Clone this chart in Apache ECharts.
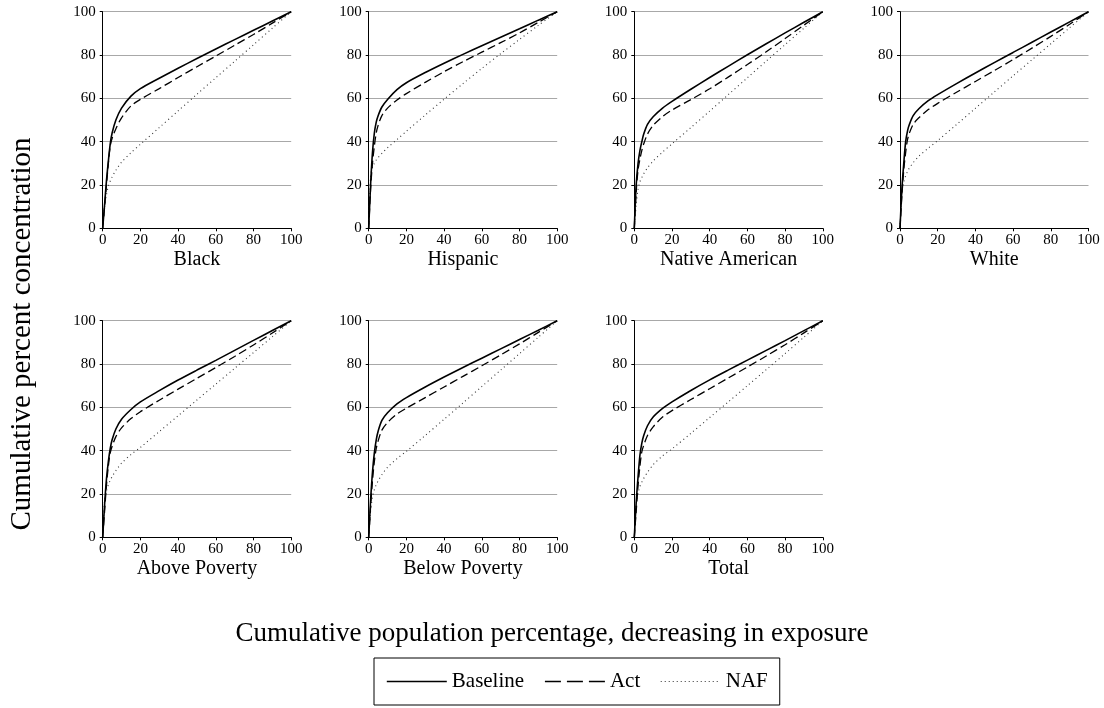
<!DOCTYPE html>
<html>
<head>
<meta charset="utf-8">
<script src="https://cdn.jsdelivr.net/npm/echarts@6/dist/echarts.min.js"></script>
<style>
  html, body { margin: 0; padding: 0; background: #fff; }
  #chart { width: 1104px; height: 708px; }
</style>
</head>
<body>
<div id="chart"></div>
<script>
// cumulative population percentage (x)
const xPct = [0, 1, 2, 3, 4, 5, 7, 10, 15, 20, 30, 40, 50, 60, 70, 80, 90, 100];
const panelNames = ["Black", "Hispanic", "Native American", "White", "Above Poverty", "Below Poverty", "Total"];
const seriesNames = ["Baseline", "Act", "NAF"];

// cumulative percent concentration, one array per panel / scenario
const blackBaseline = [0, 11, 22, 31, 39, 44, 50, 55.5, 61, 64.5, 69.3, 73.9, 78.4, 82.8, 87.1, 91.4, 95.7, 100];
const blackAct = [0, 10, 20, 30, 38, 41.5, 46, 51, 56.5, 59.5, 64.5, 69.6, 74.6, 79.5, 84.5, 89.5, 94.7, 100];
const blackNaf = [0, 10, 15.5, 19.5, 21.8, 23.7, 26.8, 30.5, 34.9, 38.8, 46.5, 54.2, 61.9, 69.5, 77.1, 84.7, 92.4, 100];

const hispanicBaseline = [0, 20, 35, 44, 49, 52, 56, 59.5, 64, 67.2, 71.9, 76.2, 80.3, 84.3, 88.2, 92.1, 96.1, 100];
const hispanicAct = [0, 18, 30, 38, 44, 47.5, 52, 55.5, 59.2, 62.2, 67.4, 72.3, 76.9, 81.3, 85.7, 90.2, 95.1, 100];
const hispanicNaf = [0, 24, 28, 30, 31.5, 32.7, 34.6, 37.2, 41, 44.8, 52.3, 59.6, 66.8, 73.8, 80.6, 87.2, 93.7, 100];

const nativeBaseline = [0, 20, 30, 36, 40, 43.5, 48, 51.5, 55.5, 58.6, 64.2, 69.6, 74.9, 80.1, 85.2, 90.2, 95.1, 100];
const nativeAct = [0, 17, 27, 32, 36, 39, 43.5, 47.5, 51.6, 54.6, 59.4, 64.4, 69.9, 75.6, 81.5, 87.6, 93.8, 100];
const nativeNaf = [0, 11, 18, 21.5, 23.5, 25.2, 27.9, 31.1, 35.2, 39, 46.5, 54.1, 61.8, 69.5, 77.2, 84.8, 92.4, 100];

const whiteBaseline = [0, 18, 30, 40, 45, 48, 52, 55.2, 58.9, 61.7, 66.8, 71.7, 76.5, 81.2, 85.9, 90.6, 95.3, 100];
const whiteAct = [0, 15, 27, 35, 41, 44, 48, 51, 54.8, 57.7, 62.8, 67.8, 72.8, 77.9, 83.2, 88.6, 94.2, 100];
const whiteNaf = [0, 17, 21.5, 24.2, 26.2, 27.9, 30.3, 33.3, 37, 40.5, 47.9, 55.4, 62.9, 70.4, 77.8, 85.2, 92.6, 100];

const aboveBaseline = [0, 15, 27, 35, 41, 45, 50, 54.5, 59, 62.5, 67.7, 72.6, 77.2, 81.7, 86.3, 90.9, 95.5, 100];
const aboveAct = [0, 12, 24, 33, 39, 42, 46.5, 50.5, 54.8, 58, 63.3, 68.4, 73.4, 78.4, 83.5, 88.8, 94.3, 100];
const aboveNaf = [0, 17, 21.5, 24.2, 26.3, 28, 30.8, 34.2, 38.2, 41.5, 48.8, 56.1, 63.4, 70.7, 78, 85.3, 92.6, 100];

const belowBaseline = [0, 17, 30, 39, 45, 49, 54, 57.5, 61.6, 64.5, 69.4, 74, 78.4, 82.7, 87, 91.3, 95.6, 100];
const belowAct = [0, 14, 26, 35, 41, 44.5, 49.5, 53, 56.9, 59.6, 64.5, 69.4, 74.3, 79.2, 84.2, 89.3, 94.6, 100];
const belowNaf = [0, 12, 18.5, 22, 24.3, 26, 28.9, 32.3, 36.3, 39.7, 47, 54.5, 62, 69.6, 77.2, 84.8, 92.4, 100];

const totalBaseline = [0, 16, 28, 38, 43.5, 47, 51.5, 55.5, 59.5, 62.5, 67.8, 72.7, 77.3, 81.8, 86.3, 90.8, 95.4, 100];
const totalAct = [0, 12, 24, 33, 39.5, 42.5, 47, 51, 55.5, 58.5, 63.6, 68.6, 73.6, 78.6, 83.7, 88.9, 94.4, 100];
const totalNaf = [0, 15, 20.5, 23.5, 25.5, 27.2, 30, 33.5, 37.6, 40.8, 48, 55.3, 62.6, 70, 77.4, 84.8, 92.4, 100];

const panelData = [
  [blackBaseline, blackAct, blackNaf],
  [hispanicBaseline, hispanicAct, hispanicNaf],
  [nativeBaseline, nativeAct, nativeNaf],
  [whiteBaseline, whiteAct, whiteNaf],
  [aboveBaseline, aboveAct, aboveNaf],
  [belowBaseline, belowAct, belowNaf],
  [totalBaseline, totalAct, totalNaf],
];

const FONT = "Liberation Serif";
const gridLefts = [102.7, 368.7, 634.3, 900];
const gridTops = [11.7, 320.7];
const gridW = 188.5;
const gridH = 216.6;

// line look per scenario
const lineStyles = [
  { color: "#000", width: 1.6, type: "solid" },
  { color: "#000", width: 1.3, type: [8, 4] },
  { color: "#333", width: 1.1, type: [1, 3.3] },
];

const grids = [], xAxes = [], yAxes = [], series = [];
panelNames.forEach((name, i) => {
  grids.push({
    left: gridLefts[i % 4],
    top: gridTops[Math.floor(i / 4)],
    width: gridW,
    height: gridH,
  });
  xAxes.push({
    gridIndex: i,
    type: "value",
    min: 0,
    max: 100,
    interval: 20,
    name: name,
    nameLocation: "middle",
    nameGap: 21,
    nameTextStyle: { fontFamily: FONT, fontSize: 20, color: "#000", verticalAlign: "top" },
    axisLine: { lineStyle: { color: "#000", width: 1 } },
    axisTick: { show: true, length: 3, lineStyle: { color: "#000" } },
    axisLabel: { fontFamily: FONT, fontSize: 15, color: "#000", margin: 4 },
    splitLine: { show: false },
  });
  yAxes.push({
    gridIndex: i,
    type: "value",
    min: 0,
    max: 100,
    interval: 20,
    axisLine: { show: true, lineStyle: { color: "#000", width: 1 } },
    axisTick: { show: true, length: 3, lineStyle: { color: "#000" } },
    axisLabel: { fontFamily: FONT, fontSize: 15, color: "#000", margin: 7 },
    splitLine: { show: true, lineStyle: { color: "#a8a8a8", width: 1 } },
  });
  panelData[i].forEach((vals, k) => {
    series.push({
      name: seriesNames[k],
      type: "line",
      xAxisIndex: i,
      yAxisIndex: i,
      data: xPct.map((x, j) => [x, vals[j]]),
      symbol: "none",
      smooth: 0.3,
      lineStyle: lineStyles[k],
      color: lineStyles[k].color,
      z: 3 - k,
      silent: true,
    });
  });
});

const chart = echarts.init(document.getElementById("chart"));
chart.setOption({
  animation: false,
  backgroundColor: "#fff",
  grid: grids,
  xAxis: xAxes,
  yAxis: yAxes,
  series: series,
  legend: {
    data: [
      { name: "Baseline", lineStyle: { type: "solid", width: 1.6 } },
      { name: "Act", lineStyle: { type: [16, 6], width: 1.6 } },
      { name: "NAF", lineStyle: { type: [1, 3], width: 1 } },
    ],
    left: 374,
    top: 658,
    itemWidth: 60,
    itemHeight: 14,
    itemGap: 20,
    padding: [13, 12, 13, 12],
    borderColor: "#000",
    borderWidth: 1,
    selectedMode: false,
    itemStyle: { opacity: 0 },
    textStyle: { fontFamily: FONT, fontSize: 21, color: "#000" },
  },
  graphic: [
    {
      type: "text",
      left: "center",
      top: 620,
      style: {
        text: "Cumulative population percentage, decreasing in exposure",
        font: "27px " + FONT,
        fill: "#000",
      },
    },
    {
      type: "text",
      x: 8,
      y: 334,
      rotation: Math.PI / 2,
      style: {
        text: "Cumulative percent concentration",
        font: "29px " + FONT,
        fill: "#000",
        align: "center",
        verticalAlign: "top",
      },
    },
  ],
});
</script>
</body>
</html>
